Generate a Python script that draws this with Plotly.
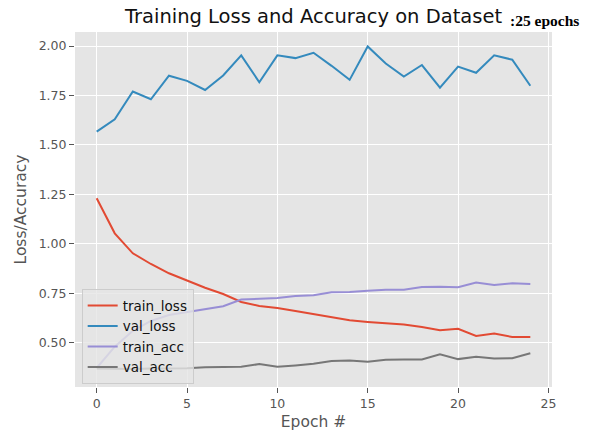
import plotly.graph_objects as go

epochs = list(range(25))

train_loss = [1.230, 1.053, 0.952, 0.898, 0.851, 0.814, 0.778, 0.746, 0.706, 0.686,
              0.675, 0.660, 0.645, 0.630, 0.613, 0.605, 0.597, 0.592, 0.579, 0.563,
              0.570, 0.534, 0.546, 0.529, 0.529]
val_loss = [1.567, 1.630, 1.770, 1.731, 1.850, 1.824, 1.778, 1.851, 1.953, 1.817,
            1.953, 1.939, 1.966, 1.900, 1.829, 1.998, 1.912, 1.846, 1.904, 1.790,
            1.896, 1.865, 1.953, 1.931, 1.799]
train_acc = [0.372, 0.480, 0.560, 0.610, 0.640, 0.655, 0.669, 0.684, 0.718, 0.721,
             0.726, 0.736, 0.740, 0.755, 0.756, 0.763, 0.768, 0.768, 0.782, 0.783,
             0.780, 0.804, 0.792, 0.800, 0.797]
val_acc = [0.370, 0.368, 0.367, 0.369, 0.370, 0.371, 0.376, 0.376, 0.378, 0.392,
           0.378, 0.385, 0.393, 0.407, 0.410, 0.404, 0.414, 0.415, 0.415, 0.441,
           0.417, 0.429, 0.420, 0.422, 0.447]

x_ticks = [0, 5, 10, 15, 20, 25]
y_ticks = [0.50, 0.75, 1.00, 1.25, 1.50, 1.75, 2.00]

series = [
    ("train_loss", train_loss, "#E24A33"),
    ("val_loss", val_loss, "#348ABD"),
    ("train_acc", train_acc, "#988ED5"),
    ("val_acc", val_acc, "#777777"),
]

FONT = "DejaVu Sans"
W, H = 590, 434

fig = go.Figure()
for name, vals, color in series:
    fig.add_trace(go.Scatter(x=epochs, y=vals, mode="lines", name=name,
                             line=dict(color=color, width=2)))

fig.update_layout(
    width=W, height=H,
    margin=dict(l=75, r=38, t=32, b=47, autoexpand=False),
    paper_bgcolor="white",
    plot_bgcolor="#E5E5E5",
    font=dict(family=FONT, color="#555555", size=12),
    title=dict(text="Training Loss and Accuracy on Dataset",
               font=dict(family=FONT, size=19.5, color="#111111"),
               x=0.5, xref="paper", xanchor="center",
               y=1 - 16 / H, yref="container", yanchor="middle",
               automargin=False),
    showlegend=True,
    legend=dict(x=0.014, y=0.008, xanchor="left", yanchor="bottom",
                bgcolor="rgba(229,229,229,0.8)", bordercolor="#cccccc", borderwidth=1,
                font=dict(family=FONT, size=13.5, color="#111111"),
                itemwidth=30, tracegroupgap=0),
    xaxis=dict(range=[-1.2, 25.2], tickvals=x_ticks, ticks="outside", ticklen=5,
               tickcolor="#555555", tickwidth=1, showgrid=True, gridcolor="white",
               gridwidth=1, zeroline=False, showline=False, automargin=False,
               tickfont=dict(family=FONT, size=12.5, color="#555555"),
               title=dict(text="Epoch #", standoff=6,
                          font=dict(family=FONT, size=15.5, color="#555555"))),
    yaxis=dict(range=[0.276, 2.071], tickvals=y_ticks, tickformat=".2f",
               ticks="outside", ticklen=5, tickcolor="#555555", tickwidth=1,
               showgrid=True, gridcolor="white", gridwidth=1, zeroline=False,
               showline=False, automargin=False,
               tickfont=dict(family=FONT, size=12.5, color="#555555"),
               title=dict(text="Loss/Accuracy", standoff=8,
                          font=dict(family=FONT, size=15.5, color="#555555"))),
)

fig.add_annotation(text="<b>:25 epochs</b>", xref="paper", yref="paper",
                   x=(508 - 75) / 477, y=(387 - 20) / 355, xanchor="left", yanchor="middle",
                   showarrow=False,
                   font=dict(family="Liberation Serif", size=15.5, color="#000000"))

fig.write_html("out.html",
               config={"displayModeBar": False},
               post_script="document.body.style.margin='0';document.body.style.overflow='hidden';")
